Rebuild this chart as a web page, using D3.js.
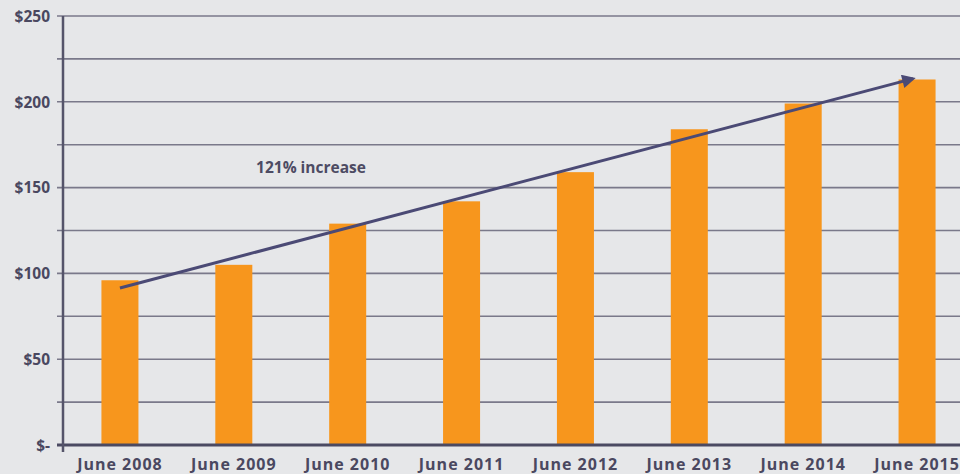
<!DOCTYPE html>
<html>
<head>
<meta charset="utf-8">
<script src="https://cdn.jsdelivr.net/npm/d3@7"></script>
<style>
  html, body { margin: 0; padding: 0; background: #e6e7e9; }
  svg { display: block; }
</style>
</head>
<body>
<div class="bar_chart"></div>
<script>
// values
const years = ["June 2008", "June 2009", "June 2010", "June 2011", "June 2012", "June 2013", "June 2014", "June 2015"];
const values = [96, 105, 129, 142, 159, 184, 199, 213];
const yTicks = [0, 25, 50, 75, 100, 125, 150, 175, 200, 225, 250];
const yLabels = ["$-", "", "$50", "", "$100", "", "$150", "", "$200", "", "$250"];
// trend arrow: start and end (category, value)
const trendFrom = ["June 2008", 91.5];
const trendTo = ["June 2015", 213.5];
const trendText = "121% increase";

const width = 960, height = 474;
const margin = { top: 16, right: -14, bottom: 29, left: 63 };

const svg = d3.select(".bar_chart").append("svg")
  .attr("width", width)
  .attr("height", height)
  .attr("font-family", "'Open Sans', sans-serif")
  .attr("font-weight", "bold");

const x = d3.scaleBand()
  .domain(years)
  .range([margin.left, width - margin.right])
  .paddingInner(0.675)
  .paddingOuter(0.3375);

const y = d3.scaleLinear()
  .domain([0, 250])
  .range([height - margin.bottom, margin.top]);

// gridlines
svg.append("g")
  .selectAll("line")
  .data(yTicks.slice(1))
  .join("line")
  .attr("x1", margin.left - 6)
  .attr("x2", width)
  .attr("y1", d => y(d))
  .attr("y2", d => y(d))
  .attr("stroke", "#7a798a")
  .attr("stroke-width", 1.6);

// y labels
svg.append("g")
  .attr("font-size", 15.5)
  .attr("fill", "#4a4860")
  .attr("text-anchor", "end")
  .selectAll("text")
  .data(yTicks)
  .join("text")
  .attr("x", margin.left - 13)
  .attr("y", d => y(d))
  .attr("dy", "0.38em")
  .text((d, i) => yLabels[i]);

// bars
svg.append("g")
  .attr("fill", "#f7961d")
  .selectAll("rect")
  .data(values)
  .join("rect")
  .attr("x", (d, i) => x(years[i]))
  .attr("width", x.bandwidth())
  .attr("y", d => y(d))
  .attr("height", d => y(0) - y(d));

// baseline and y axis line
svg.append("line")
  .attr("x1", margin.left - 6).attr("x2", width)
  .attr("y1", y(0)).attr("y2", y(0))
  .attr("stroke", "#4b4a62").attr("stroke-width", 3);

svg.append("line")
  .attr("x1", margin.left).attr("x2", margin.left)
  .attr("y1", y(250)).attr("y2", y(0) + 7)
  .attr("stroke", "#55546a").attr("stroke-width", 2.5);

// x labels
svg.append("g")
  .attr("font-size", 16)
  .attr("letter-spacing", "1px")
  .attr("fill", "#4a4860")
  .attr("text-anchor", "middle")
  .selectAll("text")
  .data(years)
  .join("text")
  .attr("x", d => x(d) + x.bandwidth() / 2)
  .attr("y", height - 4)
  .text(d => d);

// trend arrow
svg.append("defs").append("marker")
  .attr("id", "head")
  .attr("viewBox", "0 0 10 10")
  .attr("refX", 8).attr("refY", 5)
  .attr("markerWidth", 6.5).attr("markerHeight", 4.5)
  .attr("markerUnits", "strokeWidth")
  .attr("orient", "auto")
  .append("path")
  .attr("d", "M0,0L10,5L0,10z")
  .attr("fill", "#4b4a75");

svg.append("line")
  .attr("x1", x(trendFrom[0]) + x.bandwidth() / 2)
  .attr("y1", y(trendFrom[1]))
  .attr("x2", x(trendTo[0]) + x.bandwidth() / 2 - 4)
  .attr("y2", y(trendTo[1]))
  .attr("stroke", "#4b4a75")
  .attr("stroke-width", 3)
  .attr("marker-end", "url(#head)");

svg.append("text")
  .attr("x", 311)
  .attr("y", y(158.5))
  .attr("text-anchor", "middle")
  .attr("font-size", 15.5)
  .attr("fill", "#4d4b63")
  .text(trendText);
</script>
</body>
</html>
